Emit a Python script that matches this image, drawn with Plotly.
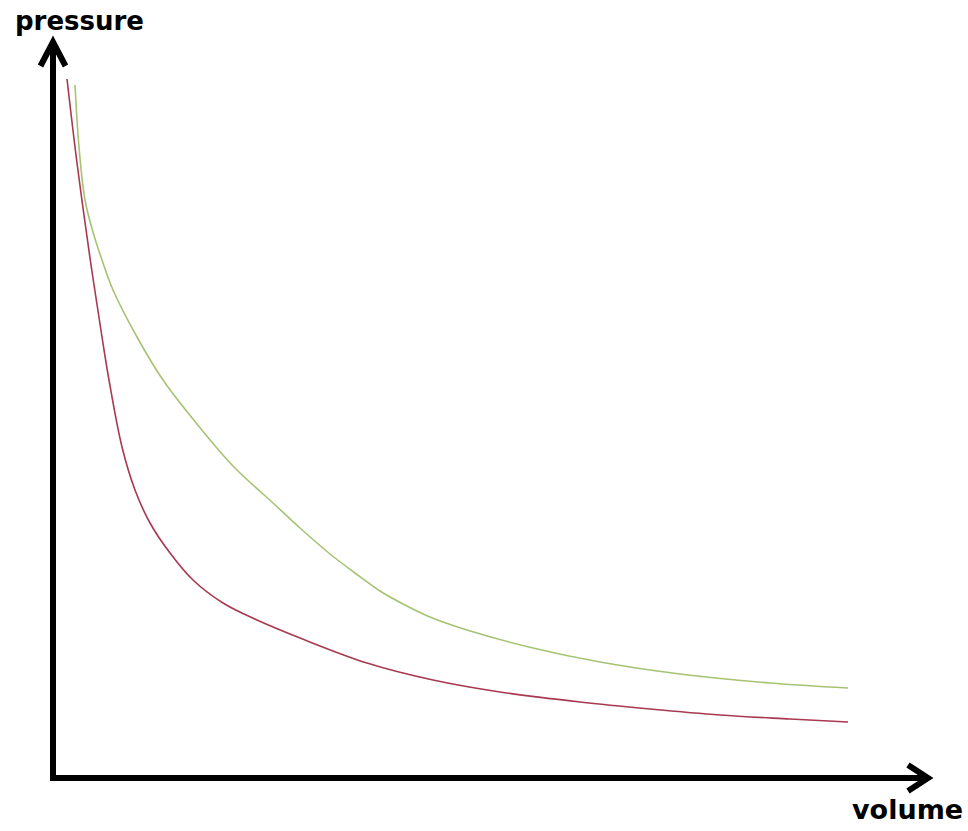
import plotly.graph_objects as go

# Curve data (volume, pressure) in arbitrary units
red_volume = [0.14, 0.24, 0.37, 0.49, 0.56, 0.69, 0.82, 0.97, 1.17, 1.40, 1.70, 2.04, 2.47, 3.14,
              3.80, 4.47, 5.27, 5.97, 6.67, 7.37, 7.95]
red_pressure = [6.99, 6.15, 5.20, 4.41, 3.98, 3.31, 2.88, 2.55, 2.25, 1.98, 1.75, 1.58, 1.40, 1.15,
                0.98, 0.86, 0.76, 0.69, 0.63, 0.59, 0.56]

green_volume = [0.22, 0.26, 0.32, 0.40, 0.49, 0.60, 0.84, 1.10, 1.44, 1.80, 2.20, 2.47, 2.77, 3.02,
                3.27, 3.52, 3.77, 4.14, 4.80, 5.47, 6.27, 7.17, 7.95]
green_pressure = [6.93, 6.31, 5.78, 5.46, 5.18, 4.88, 4.41, 3.98, 3.54, 3.12, 2.75, 2.50, 2.24, 2.05,
                  1.87, 1.73, 1.61, 1.48, 1.30, 1.16, 1.04, 0.95, 0.90]

x_label = "volume"
y_label = "pressure"

fig = go.Figure()
fig.add_trace(go.Scatter(x=green_volume, y=green_pressure, mode="lines",
                         line=dict(color="#a6c374", width=1.6, shape="spline", smoothing=1.0),
                         hoverinfo="skip", showlegend=False))
fig.add_trace(go.Scatter(x=red_volume, y=red_pressure, mode="lines",
                         line=dict(color="#a8394f", width=1.6, shape="spline", smoothing=1.0),
                         hoverinfo="skip", showlegend=False))

axis_style = dict(color="black", width=6)
shapes = [
    dict(type="line", xref="x", yref="y", x0=0, y0=-0.03, x1=0, y1=7.33, line=axis_style),
    dict(type="line", xref="x", yref="y", x0=-0.03, y0=0, x1=8.71, y1=0, line=axis_style),
    dict(type="path", xref="x", yref="y", path="M -0.125,7.12 L 0,7.36 L 0.125,7.12", line=axis_style),
    dict(type="path", xref="x", yref="y", path="M 8.55,0.13 L 8.75,0 L 8.55,-0.13", line=axis_style),
]

annotations = [
    dict(text=y_label, x=0.26, y=7.57, xref="x", yref="y", showarrow=False,
         font=dict(family="DejaVu Sans", size=26, color="black", weight="bold")),
    dict(text=x_label, x=8.54, y=-0.31, xref="x", yref="y", showarrow=False,
         font=dict(family="DejaVu Sans", size=27, color="black", weight="bold")),
]

fig.update_layout(
    width=968, height=831,
    margin=dict(l=0, r=0, t=0, b=0),
    paper_bgcolor="white", plot_bgcolor="white",
    xaxis=dict(range=[-0.53, 9.15], visible=False, fixedrange=True),
    yaxis=dict(range=[-0.53, 7.78], visible=False, fixedrange=True),
    shapes=shapes, annotations=annotations,
    showlegend=False,
)

fig.write_html("out.html", config={"displayModeBar": False},
               post_script="document.body.style.margin='0px';document.body.style.overflow='hidden';")
